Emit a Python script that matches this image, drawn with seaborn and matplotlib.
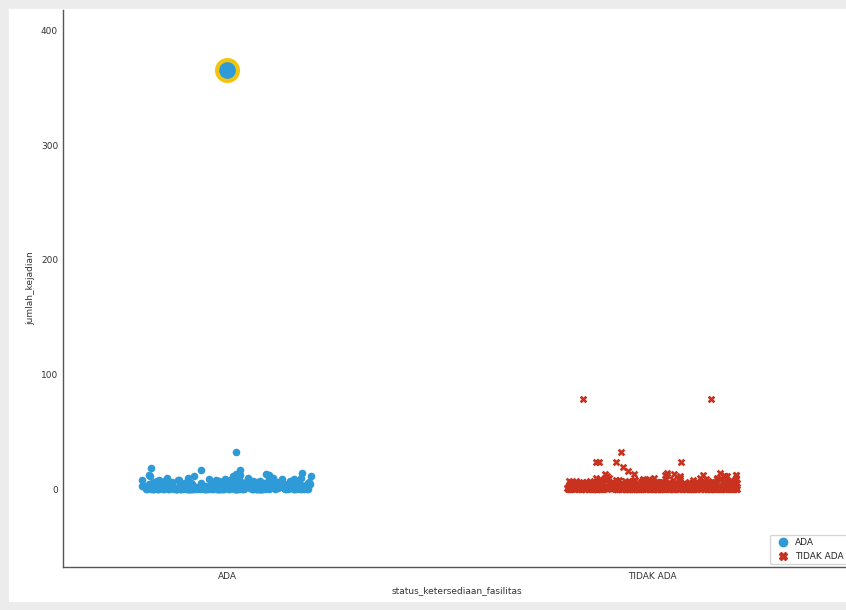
import numpy as np
import pandas as pd
import matplotlib.pyplot as plt
from matplotlib.lines import Line2D
from matplotlib.patches import Rectangle
import seaborn as sns

sns.set_style("white")
np.random.seed(3)

categories = ["ADA", "TIDAK ADA"]

ada_values = [0, 1, 2, 3, 4, 5, 6, 7, 8, 9, 10, 11, 12, 13, 14, 17, 18, 32]
ada_counts = [90, 70, 50, 35, 25, 18, 14, 10, 8, 6, 5, 4, 4, 2, 1, 2, 1, 1]
ada_outlier = [366]

tidak_values = [0, 1, 2, 3, 4, 5, 6, 7, 8, 9, 10, 11, 12, 13, 14, 16, 19, 24, 32, 79]
tidak_counts = [160, 120, 80, 55, 40, 30, 22, 16, 12, 9, 7, 6, 5, 3, 2, 1, 1, 4, 1, 2]

df_ada = pd.DataFrame({"status_ketersediaan_fasilitas": "ADA",
                       "jumlah_kejadian": np.repeat(ada_values, ada_counts)})
df_tidak = pd.DataFrame({"status_ketersediaan_fasilitas": "TIDAK ADA",
                         "jumlah_kejadian": np.repeat(tidak_values, tidak_counts)})
df_out = pd.DataFrame({"status_ketersediaan_fasilitas": "ADA",
                       "jumlah_kejadian": ada_outlier})

blue = "#2f9ad8"
red = "#c8321f"

fig = plt.figure(figsize=(8.46, 6.1), dpi=100)
# light grey frame on left / top / bottom, cut off on the right like the screenshot
fig.patches.append(Rectangle((0, 0), 1.1, 1, transform=fig.transFigure, fill=False,
                             edgecolor="#ececec", linewidth=12, zorder=0))
ax = fig.add_axes([0.0745, 0.0705, 0.93, 0.913])

sns.stripplot(data=df_ada, x="status_ketersediaan_fasilitas", y="jumlah_kejadian",
              order=categories, color=blue, marker="o", size=5.5, jitter=0.2,
              linewidth=0, ax=ax)
sns.stripplot(data=df_tidak, x="status_ketersediaan_fasilitas", y="jumlah_kejadian",
              order=categories, color=red, marker="X", size=5.5, jitter=0.2,
              linewidth=0, ax=ax)
sns.stripplot(data=df_out, x="status_ketersediaan_fasilitas", y="jumlah_kejadian",
              order=categories, color=blue, marker="o", size=15, jitter=False,
              edgecolor="#f2c40f", linewidth=3, ax=ax)

ax.set_xlim(-0.386, 1.465)
ax.set_ylim(-68, 418)
ax.set_yticks([0, 100, 200, 300, 400])
ax.tick_params(direction="in", length=4, width=0.8, labelsize=6.5, colors="#333333")
for s in ["top", "right"]:
    ax.spines[s].set_visible(False)
for s in ["left", "bottom"]:
    ax.spines[s].set_color("#555555")
    ax.spines[s].set_linewidth(1)
ax.set_xlabel("status_ketersediaan_fasilitas", fontsize=6.5, color="#333333")
ax.set_ylabel("jumlah_kejadian", fontsize=6.5, color="#333333")

handles = [Line2D([], [], marker="o", color=blue, linestyle="", markersize=6),
           Line2D([], [], marker="X", color=red, linestyle="", markersize=6)]
ax.legend(handles, categories, loc="lower right", fontsize=6.5, frameon=True,
          borderaxespad=0.3, handletextpad=0.3)

fig.savefig("out.png", dpi=100)
